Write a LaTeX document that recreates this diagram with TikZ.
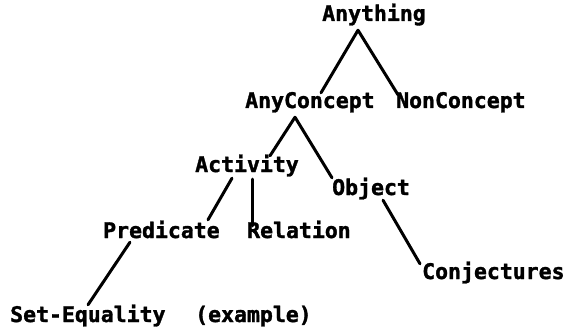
\documentclass[tikz,border=0pt]{standalone}
\usepackage{fontspec}
\usepackage{tikz}
\newfontfamily\treefont[BoldFeatures={FakeBold=1.5}]{DejaVu Sans Mono}
\tikzset{
  concept/.style={anchor=base west,inner sep=0pt,text height=14pt,text depth=4pt,
    font=\treefont\bfseries\fontsize{21.5}{24}\selectfont},
  branch/.style={line width=3pt,line cap=round}
}

\begin{document}
\begin{tikzpicture}[x=1pt,y=-1pt]
\useasboundingbox (0,0) rectangle (564,331);
\node[concept] (anything) at (322,21) {Anything};
\node[concept] (anyconcept) at (245,108) {AnyConcept};
\node[concept] (nonconcept) at (396,108) {NonConcept};
\node[concept] (activity) at (195,172) {Activity};
\node[concept] (object) at (332,195) {Object};
\node[concept] (predicate) at (103,238) {Predicate};
\node[concept] (relation) at (247,238) {Relation};
\node[concept] (conjectures) at (422,279) {Conjectures};
\node[concept] (setequality) at (10,322) {Set-Equality};
\node[concept] (example) at (195,322) {(example)};

\draw [branch] ([xshift=36pt,yshift=-5pt]anything.south west) -- ([xshift=76pt,yshift=1pt]anyconcept.north west);
\draw [branch] ([xshift=36pt,yshift=-5pt]anything.south west) -- ([xshift=2pt,yshift=-1pt]nonconcept.north west);
\draw [branch] ([xshift=50pt,yshift=-5pt]anyconcept.south west) -- ([xshift=75pt,yshift=2pt]activity.north west);
\draw [branch] ([xshift=50pt,yshift=-5pt]anyconcept.south west) -- ([yshift=3pt]object.north west);
\draw [branch] ([xshift=37pt,yshift=-2pt]activity.south west) -- ([xshift=105pt,yshift=4pt]predicate.north west);
\draw [branch] ([xshift=57pt,yshift=-3pt]activity.south west) -- ([xshift=5pt,yshift=-2pt]relation.north west);
\draw [branch] ([xshift=51pt,yshift=-1pt]object.south west) -- ([xshift=-2pt,yshift=1pt]conjectures.north west);
\draw [branch] ([xshift=27pt]predicate.south west) -- ([xshift=78pt,yshift=3pt]setequality.north west);

\end{tikzpicture}
\end{document}
